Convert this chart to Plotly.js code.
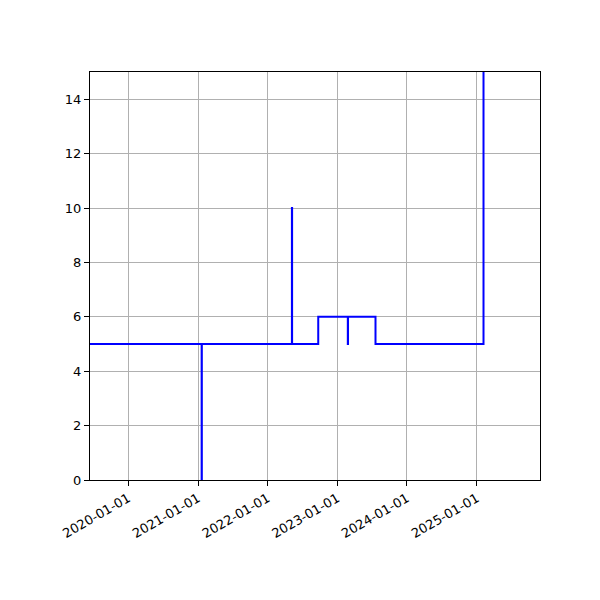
<!DOCTYPE html>
<html>
<head>
<meta charset="utf-8">
<script src="https://cdn.plot.ly/plotly-3.0.1.min.js"></script>
<style>
  html, body { margin: 0; padding: 0; background: #fff; }
  #chart { width: 600px; height: 600px; }
</style>
</head>
<body>
<div id="chart"></div>
<script>
// step series (value holds until the next date)
const dates = [
  '2019-06-15', '2021-01-20', '2021-01-21', '2022-05-08', '2022-05-09',
  '2022-09-23', '2023-02-25', '2023-02-26', '2023-07-20', '2025-02-05',
  '2025-11-28'
];
const values = [5, 0, 5, 10, 5, 6, 5, 6, 5, 20, 20];

const yearTicks = ['2020-01-01', '2021-01-01', '2022-01-01', '2023-01-01', '2024-01-01', '2025-01-01'];
const yTicks = [0, 2, 4, 6, 8, 10, 12, 14];

const axisCommon = {
  showline: true, mirror: true, linecolor: '#000', linewidth: 1,
  ticks: 'outside', ticklen: 5, tickwidth: 1, tickcolor: '#000',
  showgrid: true, gridcolor: '#b0b0b0', gridwidth: 1,
  zeroline: false,
  tickfont: { family: 'DejaVu Sans', size: 13, color: '#000' }
};

const traces = [{
  type: 'scatter',
  mode: 'lines',
  x: dates,
  y: values,
  line: { color: '#0000ff', width: 2, shape: 'hv' },
  hoverinfo: 'skip'
}];

const layout = {
  width: 600, height: 600,
  margin: { l: 90, r: 60, t: 72, b: 120 },
  paper_bgcolor: '#fff',
  plot_bgcolor: '#fff',
  showlegend: false,
  xaxis: Object.assign({}, axisCommon, {
    type: 'date',
    range: ['2019-06-15', '2025-11-28'],
    tickmode: 'array',
    tickvals: yearTicks,
    ticktext: yearTicks,
    tickangle: -30
  }),
  yaxis: Object.assign({}, axisCommon, {
    range: [0, 15],
    tickmode: 'array',
    tickvals: yTicks,
    ticktext: yTicks.map(String)
  })
};

Plotly.newPlot('chart', traces, layout, { displayModeBar: false, staticPlot: true });
</script>
</body>
</html>
